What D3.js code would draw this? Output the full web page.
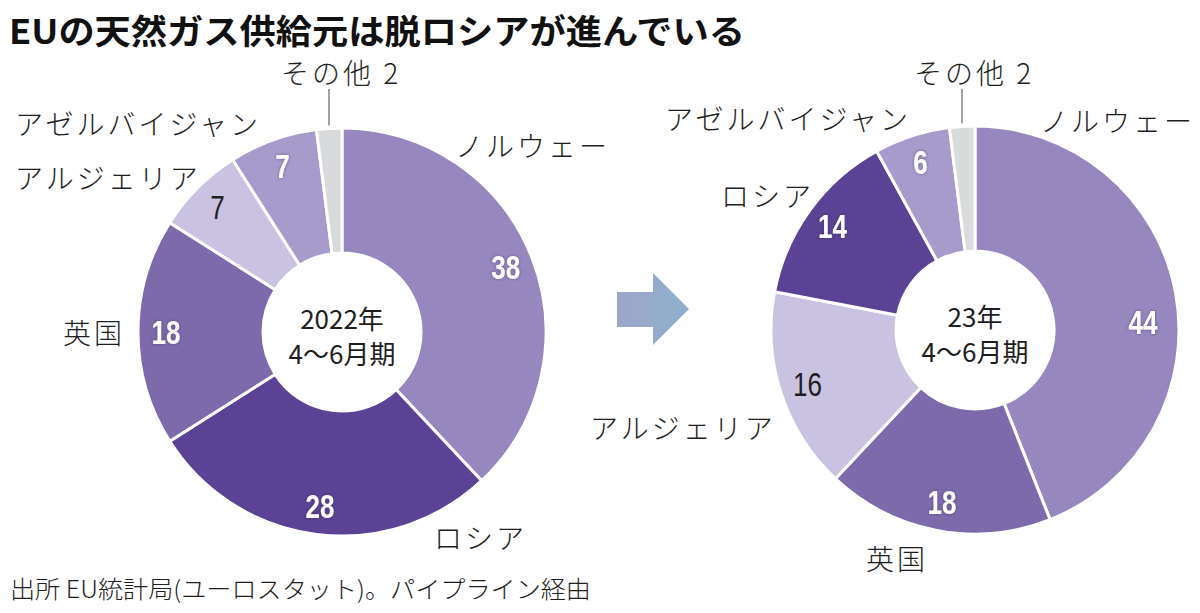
<!DOCTYPE html>
<html>

<head>
    <meta charset="utf-8">
    <title>EUの天然ガス供給元</title>
    <script src="https://cdn.jsdelivr.net/npm/d3@7"></script>
    <style>
        body { margin: 0; background: #fff; }
        text { font-family: "Noto Sans CJK JP", "Noto Sans", sans-serif; fill: #1e1e1e; }
        .num { font-family: "Liberation Sans", Arial, sans-serif; }
    </style>
</head>

<body>
    <svg id="chart"></svg>
</body>

<script>
    // data (shares in %)
    let sources22 = ["ノルウェー", "ロシア", "英国", "アルジェリア", "アゼルバイジャン", "その他"],
        shares22 = [38, 28, 18, 7, 7, 2];
    let sources23 = ["ノルウェー", "英国", "アルジェリア", "ロシア", "アゼルバイジャン", "その他"],
        shares23 = [44, 18, 16, 14, 6, 2];
    let period22 = ["2022年", "4〜6月期"],
        period23 = ["23年", "4〜6月期"];
    let titleText = "EUの天然ガス供給元は脱ロシアが進んでいる",
        sourceNote = "出所 EU統計局(ユーロスタット)。パイプライン経由";

    let colors = {
        "ノルウェー": "#9687bf",
        "ロシア": "#5b4294",
        "英国": "#7c6aab",
        "アルジェリア": "#cac2e1",
        "アゼルバイジャン": "#a79bcb",
        "その他": "#d9dadb"
    };
    let darkNumber = ["アルジェリア"]; // light slices get dark numbers

    const WIDTH = 1200, HEIGHT = 613;
    let outerR = 204, innerR = 79, numR = 176;

    // name label placement (left x, middle y) per chart
    let layout22 = {
        cx: 342, cy: 332,
        labels: {
            "ノルウェー": [455, 145], "ロシア": [434, 537], "英国": [63, 332],
            "アルジェリア": [15, 177], "アゼルバイジャン": [15, 123], "その他": [281, 72]
        },
        shift: {}
    };
    let layout23 = {
        cx: 975, cy: 330,
        labels: {
            "ノルウェー": [1040, 120], "英国": [866, 558], "アルジェリア": [590, 427],
            "ロシア": [721, 195], "アゼルバイジャン": [665, 118], "その他": [914, 72]
        },
        shift: { "ノルウェー": [-5, 25] }
    };

    let svg = d3.select("#chart").attr("width", WIDTH).attr("height", HEIGHT)
        .style("background-color", "#fff");

    let defs = svg.append("defs");
    let grad = defs.append("linearGradient").attr("id", "arrowGrad");
    grad.append("stop").attr("offset", "0%").attr("stop-color", "#9ea6c9");
    grad.append("stop").attr("offset", "100%").attr("stop-color", "#8db0cc");
    let shadow = defs.append("filter").attr("id", "numShadow")
        .attr("x", "-30%").attr("y", "-30%").attr("width", "160%").attr("height", "160%");
    shadow.append("feDropShadow").attr("dx", 0).attr("dy", 0).attr("stdDeviation", 1.5)
        .attr("flood-color", "#2a1f4a").attr("flood-opacity", 0.5);

    // title
    svg.append("text")
        .attr("x", 9).attr("y", 29)
        .attr("dominant-baseline", "central")
        .attr("font-size", 34).attr("font-weight", 700)
        .attr("textLength", 736).attr("lengthAdjust", "spacingAndGlyphs")
        .style("fill", "#111")
        .text(titleText);

    // source note
    svg.append("text")
        .attr("x", 10).attr("y", 587)
        .attr("dominant-baseline", "central")
        .attr("font-size", 24).attr("font-weight", 300)
        .attr("textLength", 581).attr("lengthAdjust", "spacingAndGlyphs")
        .text(sourceNote);

    function drawDonut(names, values, period, lay) {
        let data = names.map((n, i) => ({ name: n, value: values[i] }));
        let pie = d3.pie().sort(null).value(d => d.value);
        let arc = d3.arc().innerRadius(innerR).outerRadius(outerR);
        let numArc = d3.arc().innerRadius(numR).outerRadius(numR);
        let g = svg.append("g").attr("transform", "translate(" + lay.cx + "," + lay.cy + ")");
        let arcs = pie(data);

        g.selectAll("path.slice")
            .data(arcs).enter().append("path")
            .attr("class", "slice")
            .attr("d", arc)
            .attr("fill", d => colors[d.data.name])
            .attr("stroke", "#fff")
            .attr("stroke-width", 3)
            .attr("stroke-linejoin", "round");

        // numbers inside slices (narrow figures)
        g.selectAll("text.num")
            .data(arcs.filter(d => d.data.name !== "その他")).enter().append("text")
            .attr("class", "num")
            .attr("transform", function (d) {
                let c = numArc.centroid(d), s = lay.shift[d.data.name] || [0, 0];
                return "translate(" + (c[0] + s[0]) + "," + (c[1] + s[1]) + ")";
            })
            .attr("text-anchor", "middle")
            .attr("dominant-baseline", "central")
            .attr("font-size", 33)
            .attr("font-weight", d => darkNumber.includes(d.data.name) ? 400 : 700)
            .attr("textLength", d => String(d.data.value).length * 14.5)
            .attr("lengthAdjust", "spacingAndGlyphs")
            .attr("filter", d => darkNumber.includes(d.data.name) ? null : "url(#numShadow)")
            .style("fill", d => darkNumber.includes(d.data.name) ? "#1e1e1e" : "#fff")
            .text(d => d.data.value);

        // leader for the small slice
        let other = arcs.find(d => d.data.name === "その他");
        let mid = (other.startAngle + other.endAngle) / 2;
        let lx = (outerR + 3) * Math.sin(mid), ly = -(outerR + 3) * Math.cos(mid);
        g.append("line")
            .attr("x1", lx).attr("y1", ly)
            .attr("x2", lx).attr("y2", lay.labels["その他"][1] + 17 - lay.cy)
            .attr("stroke", "#444").attr("stroke-width", 1);

        // name labels
        svg.selectAll(null)
            .data(arcs).enter().append("text")
            .attr("x", d => lay.labels[d.data.name][0])
            .attr("y", d => lay.labels[d.data.name][1])
            .attr("dominant-baseline", "central")
            .attr("font-size", 28).attr("font-weight", 300)
            .attr("letter-spacing", 3)
            .text(d => d.data.name === "その他" ? d.data.name + " " + d.data.value : d.data.name);

        // period in the hole
        g.selectAll("text.period")
            .data(period).enter().append("text")
            .attr("class", "period")
            .attr("x", 0)
            .attr("y", (d, i) => -15 + i * 35)
            .attr("text-anchor", "middle")
            .attr("dominant-baseline", "central")
            .attr("font-size", 26).attr("font-weight", 400)
            .text(d => d);
    }

    drawDonut(sources22, shares22, period22, layout22);
    drawDonut(sources23, shares23, period23, layout23);

    // arrow between the two donuts
    let arrow = d3.path();
    arrow.moveTo(617, 292); arrow.lineTo(653, 292); arrow.lineTo(653, 273);
    arrow.lineTo(689, 309); arrow.lineTo(653, 345); arrow.lineTo(653, 327);
    arrow.lineTo(617, 327); arrow.closePath();
    svg.append("path").attr("d", arrow.toString()).attr("fill", "url(#arrowGrad)");
</script>

</html>
